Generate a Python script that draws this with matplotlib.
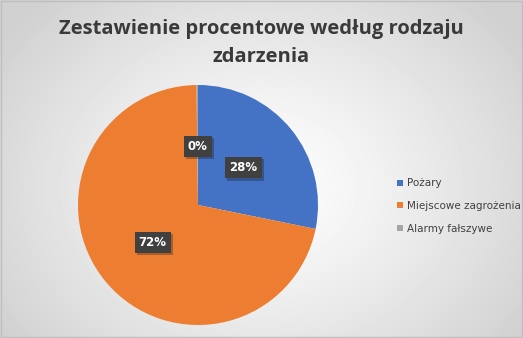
import numpy as np
import matplotlib
matplotlib.use("Agg")
import matplotlib.pyplot as plt
from matplotlib.patches import Rectangle
from matplotlib import patheffects as pe

title = "Zestawienie procentowe według rodzaju\nzdarzenia"
categories = ["Pożary", "Miejscowe zagrożenia", "Alarmy fałszywe"]
values = [28.2, 71.6, 0.2]
labels = ["28%", "72%", "0%"]
colors = ["#4472C4", "#ED7D31", "#A5A5A5"]

W, H = 523, 338
fig = plt.figure(figsize=(W / 100, H / 100), dpi=100)

# radial gradient background
bg = fig.add_axes([0, 0, 1, 1], zorder=0)
yy, xx = np.mgrid[0:H, 0:W]
cx, cy = W / 2, H * 0.55
r = np.sqrt(((xx - cx) / (W * 0.6)) ** 2 + ((yy - cy) / (H * 0.75)) ** 2)
v = 1.0 - 0.18 * np.clip(r, 0, 1) ** 1.2
bg.imshow(v, cmap="gray", vmin=0, vmax=1, extent=[0, W, H, 0], aspect="auto", interpolation="bilinear")
bg.add_patch(Rectangle((0.5, 0.5), W - 1.5, H - 1.5, fill=False, edgecolor="#BFBFBF", lw=1))
bg.set_xlim(0, W)
bg.set_ylim(H, 0)
bg.axis("off")

fig.text(0.5, 1 - 43 / H, title, ha="center", va="center", fontsize=14.5,
         fontweight="bold", color="#3A3A3A", family="Open Sans", linespacing=1.5)

# pie: center (198,205), radius 120
R = 120
ax = fig.add_axes([(198 - R) / W, (H - 205 - R) / H, 2 * R / W, 2 * R / H], zorder=1)
wedges, _ = ax.pie(values, colors=colors, startangle=90, counterclock=False,
                   radius=1, wedgeprops=dict(linewidth=0))
ax.set_xlim(-1, 1)
ax.set_ylim(-1, 1)
ax.set_aspect("auto")
ax.axis("off")

ang = 90.0
tot = sum(values)
for w, val, lab in zip(wedges, values, labels):
    span = 360 * val / tot
    mid = np.deg2rad(ang - span / 2)
    ang -= span
    d = 0.49
    x, y = d * np.cos(mid), d * np.sin(mid)
    t = ax.text(x, y, lab, ha="center", va="center", fontsize=8.5, fontweight="bold",
                color="white", family="DejaVu Sans",
                bbox=dict(boxstyle="square,pad=0.35", fc="#404040", ec="none"))
    t.get_bbox_patch().set_path_effects([pe.SimplePatchShadow(offset=(1.5, -1.5), alpha=0.3),
                                         pe.Normal()])

leg = fig.legend(wedges, categories, loc="center left", bbox_to_anchor=(392 / W, 1 - 206 / H),
                 frameon=False, handlelength=0.55, handleheight=0.55,
                 handletextpad=0.4, labelspacing=1.2, borderpad=0,
                 prop=dict(family="DejaVu Sans", size=7.5))
for t in leg.get_texts():
    t.set_color("#404040")

fig.savefig("out.png", dpi=100)
